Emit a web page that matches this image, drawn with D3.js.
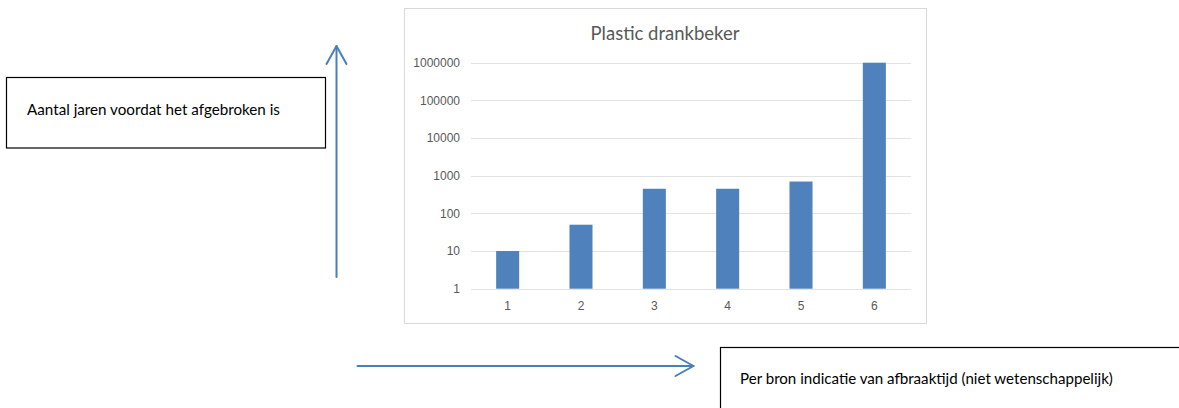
<!DOCTYPE html>
<html>
<head>
<meta charset="utf-8">
<script src="https://cdn.jsdelivr.net/npm/d3@7"></script>
<style>
  html, body { margin: 0; padding: 0; background: #fff; }
  svg { display: block; }
</style>
</head>
<body>
<svg id="chart" width="1179" height="408"></svg>
<script>
// Categories (one per source) and the indicated decomposition time in years
const categories = ["1", "2", "3", "4", "5", "6"];
const years = [10, 50, 450, 450, 700, 1000000];
const yTickValues = [1, 10, 100, 1000, 10000, 100000, 1000000];
const yTickLabels = ["1", "10", "100", "1000", "10000", "100000", "1000000"];

const chartTitle = "Plastic drankbeker";
const yNote = "Aantal jaren voordat het afgebroken is";
const xNote = "Per bron indicatie van afbraaktijd (niet wetenschappelijk)";

const svg = d3.select("#chart");
const font = "Lato, 'Open Sans', sans-serif";
const blue = "#4f81bd";
const grey = "#595959";

// Chart frame
const frame = { x: 404, y: 8, w: 522, h: 315 };
svg.append("rect")
  .attr("x", frame.x + 0.5).attr("y", frame.y + 0.5)
  .attr("width", frame.w).attr("height", frame.h)
  .attr("fill", "#fff").attr("stroke", "#d9d9d9").attr("stroke-width", 1);

// Plot area
const plot = { left: 471, right: 911, top: 62.7, bottom: 288.7 };

const x = d3.scaleBand()
  .domain(categories)
  .range([plot.left, plot.right])
  .paddingInner(0.686)
  .paddingOuter(0.343);

const y = d3.scaleLog()
  .domain([1, 1000000])
  .range([plot.bottom, plot.top]);

// Horizontal gridlines
svg.append("g")
  .selectAll("line")
  .data(yTickValues)
  .join("line")
  .attr("x1", plot.left).attr("x2", plot.right)
  .attr("y1", d => Math.round(y(d)) + 0.5)
  .attr("y2", d => Math.round(y(d)) + 0.5)
  .attr("stroke", "#e3e3e3").attr("stroke-width", 1);

// Y axis labels
const yAxis = d3.axisLeft(y)
  .tickValues(yTickValues)
  .tickFormat((d, i) => yTickLabels[i])
  .tickSize(0)
  .tickPadding(11);
const gy = svg.append("g")
  .attr("transform", `translate(${plot.left},0)`)
  .call(yAxis);
gy.select(".domain").remove();
gy.selectAll("text")
  .attr("fill", grey)
  .style("font-family", "'Liberation Sans', Arial, sans-serif")
  .style("font-size", "12px");

// X axis labels
const xAxis = d3.axisBottom(x).tickSize(0).tickPadding(13);
const gx = svg.append("g")
  .attr("transform", `translate(0,${plot.bottom})`)
  .call(xAxis);
gx.select(".domain").remove();
gx.selectAll("text")
  .attr("fill", grey)
  .style("font-family", "'Liberation Sans', Arial, sans-serif")
  .style("font-size", "12px");

// Bars
svg.append("g")
  .selectAll("rect")
  .data(years)
  .join("rect")
  .attr("x", (d, i) => x(categories[i]))
  .attr("width", x.bandwidth())
  .attr("y", d => y(d))
  .attr("height", d => y(1) - y(d))
  .attr("fill", blue);

// Title
svg.append("text")
  .attr("x", 665).attr("y", 39.5)
  .attr("text-anchor", "middle")
  .attr("fill", grey)
  .style("font-family", font)
  .style("font-size", "18.5px")
  .text(chartTitle);

// Vertical arrow with its note box
svg.append("rect")
  .attr("x", 6.5).attr("y", 77.5).attr("width", 319).attr("height", 70.5)
  .attr("fill", "#fff").attr("stroke", "#000").attr("stroke-width", 1.2);
svg.append("text")
  .attr("x", 27).attr("y", 115)
  .attr("fill", "#000")
  .style("font-family", font)
  .style("font-size", "15.2px")
  .text(yNote);

const arrow = svg.append("g")
  .attr("fill", "none").attr("stroke", "#4a7ebb")
  .attr("stroke-width", 2).attr("stroke-linecap", "round").attr("stroke-linejoin", "round");
arrow.append("line").attr("x1", 336.5).attr("y1", 277).attr("x2", 336.5).attr("y2", 46);
arrow.append("polyline").attr("points", "326.5,64 336.5,46 346.5,64");

// Horizontal arrow with its note box
arrow.append("line").attr("x1", 357.5).attr("y1", 366).attr("x2", 693.5).attr("y2", 366);
arrow.append("polyline").attr("points", "675.5,356 693.5,366 675.5,376");

svg.append("rect")
  .attr("x", 720.5).attr("y", 347.5).attr("width", 500).attr("height", 100)
  .attr("fill", "#fff").attr("stroke", "#000").attr("stroke-width", 1.2);
svg.append("text")
  .attr("x", 740).attr("y", 383.5)
  .attr("fill", "#000")
  .style("font-family", font)
  .style("font-size", "15.1px")
  .text(xNote);
</script>
</body>
</html>
